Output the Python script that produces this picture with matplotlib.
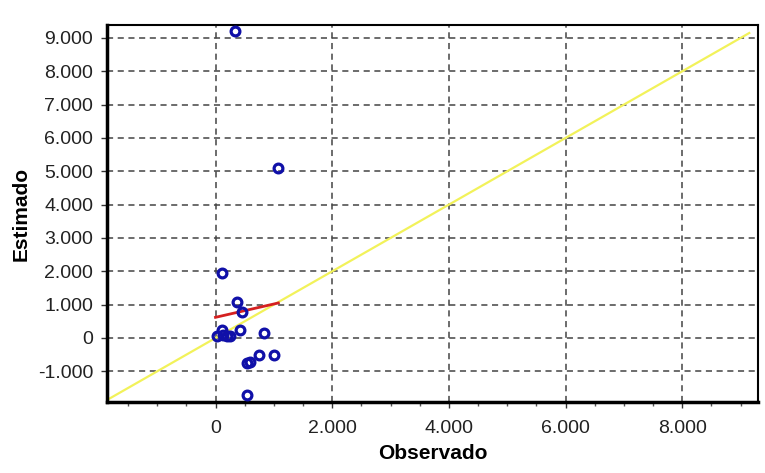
import numpy as np
import matplotlib
matplotlib.use('Agg')
import matplotlib.pyplot as plt
from matplotlib.ticker import FuncFormatter, MultipleLocator

observado = [334, 1077, 106, 364, 449, 117, 30, 120, 200, 250, 420, 832, 746, 1003, 535, 592, 535]
estimado = [9210, 5110, 1940, 1070, 790, 240, 70, 80, 60, 50, 240, 160, -510, -510, -760, -710, -1710]

# fitted line (intercept, slope) as drawn in red
fit_a = 620
fit_b = 0.40

# 1:1 reference line extent
ref_range = [-1870, 9150]

x_ticks = [0, 2000, 4000, 6000, 8000]
y_ticks = [-1000, 0, 1000, 2000, 3000, 4000, 5000, 6000, 7000, 8000, 9000]


def fmt_thousands(v, pos):
	s = '{:,.0f}'.format(v).replace(',', '.')
	return s


fig = plt.figure(figsize=(7.65, 4.73), dpi=100)
ax = fig.add_axes([107 / 765, 1 - 402 / 473, (758 - 107) / 765, (402 - 25) / 473])

ax.set_xlim(-1860, 9300)
ax.set_ylim(-1920, 9390)

ax.plot(ref_range, ref_range, color='#f2f25a', lw=1.6, zorder=2)

fx = np.array([0, max(observado)])
ax.plot(fx, fit_a + fit_b * fx, color='#d42020', lw=2.0, zorder=3)

ax.plot(observado, estimado, 'o', ms=6.3, mfc='none', mec='#1010a8', mew=2.3, zorder=4)

ax.set_xticks(x_ticks)
ax.set_yticks(y_ticks)
ax.xaxis.set_minor_locator(MultipleLocator(500))
ax.xaxis.set_major_formatter(FuncFormatter(fmt_thousands))
ax.yaxis.set_major_formatter(FuncFormatter(fmt_thousands))

ax.grid(True, which='major', color='#444444', linestyle=(0, (4, 3)), lw=1.1)
ax.set_axisbelow(True)

for side in ['top', 'right']:
	ax.spines[side].set_linewidth(1.5)
for side in ['left', 'bottom']:
	ax.spines[side].set_linewidth(2.5)

ax.tick_params(axis='both', which='major', direction='out', length=4, width=1, colors='#333333',
	labelsize=14, labelcolor='#222222')
ax.tick_params(axis='x', which='minor', direction='out', length=3, width=1, colors='#555555')
ax.tick_params(axis='x', pad=9)
ax.tick_params(axis='y', pad=6)
for lab in ax.get_xticklabels() + ax.get_yticklabels():
	lab.set_fontfamily('Liberation Sans')

ax.set_xlabel('Observado', fontsize=15, fontweight='bold', family='Liberation Sans', labelpad=5)
ax.set_ylabel('Estimado', fontsize=15, fontweight='bold', family='Liberation Sans', labelpad=5)

fig.savefig('out.png', dpi=100)
